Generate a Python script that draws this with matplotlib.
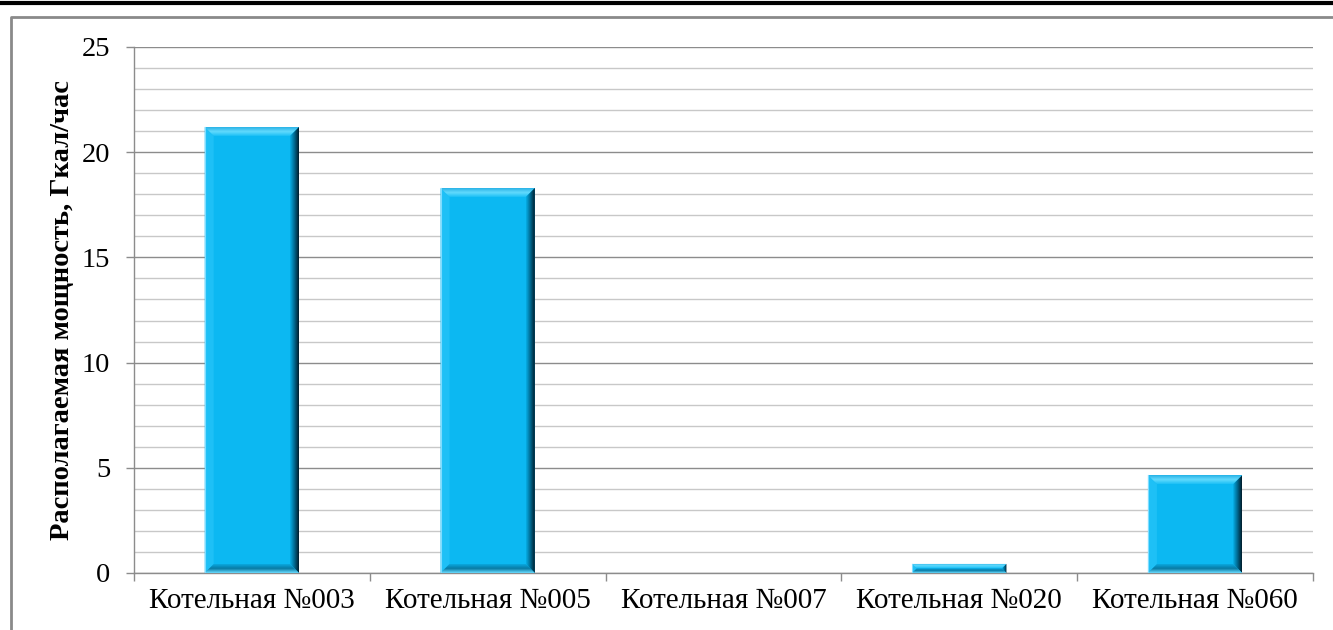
import matplotlib.pyplot as plt
import numpy as np
from matplotlib.patches import Polygon
from matplotlib.colors import LinearSegmentedColormap
from matplotlib.lines import Line2D

plt.rcParams['font.family'] = ['Liberation Serif', 'DejaVu Serif']

boilers = ['Котельная №003', 'Котельная №005', 'Котельная №007',
           'Котельная №020', 'Котельная №060']
power = [21.2, 18.3, 0.0, 0.43, 4.65]
y_ticks = [0, 5, 10, 15, 20, 25]

face = '#0cb8f2'
fig = plt.figure(figsize=(13.33, 6.3), dpi=100)
ax = fig.add_axes([0.1005, 0.0905, 0.8845, 0.8349])

x = np.arange(len(boilers))
bars = ax.bar(x, power, width=0.4, color=face, zorder=2)

ax.set_xlim(-0.5, len(boilers) - 0.5)
ax.set_ylim(0, 25)

# size of one pixel in data units, for the bevel edges
ax_w = 0.8845 * 1333
ax_h = 0.8349 * 630
px_x = len(boilers) / ax_w
px_y = 25 / ax_h


def grad(cmap_colors, direction, extent, clip):
    cm = LinearSegmentedColormap.from_list('g', cmap_colors)
    g = np.linspace(0, 1, 64)
    img = g[np.newaxis, :] if direction == 'h' else g[:, np.newaxis]
    im = ax.imshow(img, cmap=cm, extent=extent, aspect='auto',
                   origin='lower', interpolation='bilinear', zorder=3)
    im.set_clip_path(clip)


for b in bars:
    h = b.get_height()
    if h <= 0:
        continue
    x0 = b.get_x()
    x1 = x0 + b.get_width()
    y0, y1 = 0, h
    bev = min(9, h / px_y / 2)
    bx = bev * px_x
    by = bev * px_y

    top = Polygon([(x0, y1), (x1, y1), (x1 - bx, y1 - by), (x0 + bx, y1 - by)],
                  closed=True, facecolor='none', edgecolor='none', zorder=3)
    right = Polygon([(x1, y1), (x1, y0), (x1 - bx, y0 + by), (x1 - bx, y1 - by)],
                    closed=True, facecolor='none', edgecolor='none', zorder=3)
    bottom = Polygon([(x0, y0), (x1, y0), (x1 - bx, y0 + by), (x0 + bx, y0 + by)],
                     closed=True, facecolor='none', edgecolor='none', zorder=3)
    left = Polygon([(x0, y0), (x0, y1), (x0 + bx, y1 - by), (x0 + bx, y0 + by)],
                   closed=True, facecolor='#1ec0f6', edgecolor='none', zorder=3)
    for p in (top, right, bottom, left):
        ax.add_patch(p)

    grad(['#1cc0f6', '#62dafd', '#2ab2e6'], 'v', [x0, x1, y1 - by, y1], top)
    grad(['#06aee6', '#00688f', '#001c2a'], 'h', [x1 - bx, x1, y0, y1], right)
    grad(['#6adcff', '#087aa4', '#0aa8e0'], 'v', [x0, x1, y0, y0 + by], bottom)
    # thin light outline along the left edge
    ax.plot([x0, x0], [y0, y1], color='#7fdcff', linewidth=0.8, zorder=4)

# grid
ax.set_axisbelow(True)
ax.set_yticks(y_ticks)
ax.set_yticks(np.arange(0, 26, 1), minor=True)
ax.grid(True, which='major', axis='y', color='#8c8c8c', linewidth=1.0)
ax.grid(True, which='minor', axis='y', color='#c8c8c8', linewidth=1.0)
ax.tick_params(axis='y', which='minor', length=0)

ax.set_xticks(np.arange(-0.5, len(boilers), 1))
ax.set_xticks(x, minor=True)
ax.set_xticklabels([])
ax.set_xticklabels(boilers, minor=True)
ax.tick_params(axis='x', which='minor', length=0, labelsize=21, pad=11)
ax.tick_params(axis='x', which='major', length=6, color='#8c8c8c', width=1)
ax.tick_params(axis='y', which='major', length=6, color='#8c8c8c', width=1,
               labelsize=20.5, pad=11)

for s in ('top', 'right'):
    ax.spines[s].set_visible(False)
for s in ('left', 'bottom'):
    ax.spines[s].set_color('#8c8c8c')
    ax.spines[s].set_linewidth(1)

ax.set_ylabel('Располагаемая мощность, Гкал/час', fontsize=20.5,
              fontweight='bold', labelpad=5)

# chart frame and the heavy rule above it
fig.add_artist(Line2D([0, 1], [1 - 3 / 630, 1 - 3 / 630], color='black',
                      linewidth=3, transform=fig.transFigure))
fig.add_artist(Line2D([11 / 1333, 11 / 1333, 1], [0, 1 - 17 / 630, 1 - 17 / 630],
                      color='#8a8a8a', linewidth=2, transform=fig.transFigure))

fig.savefig('out.png', dpi=100)
